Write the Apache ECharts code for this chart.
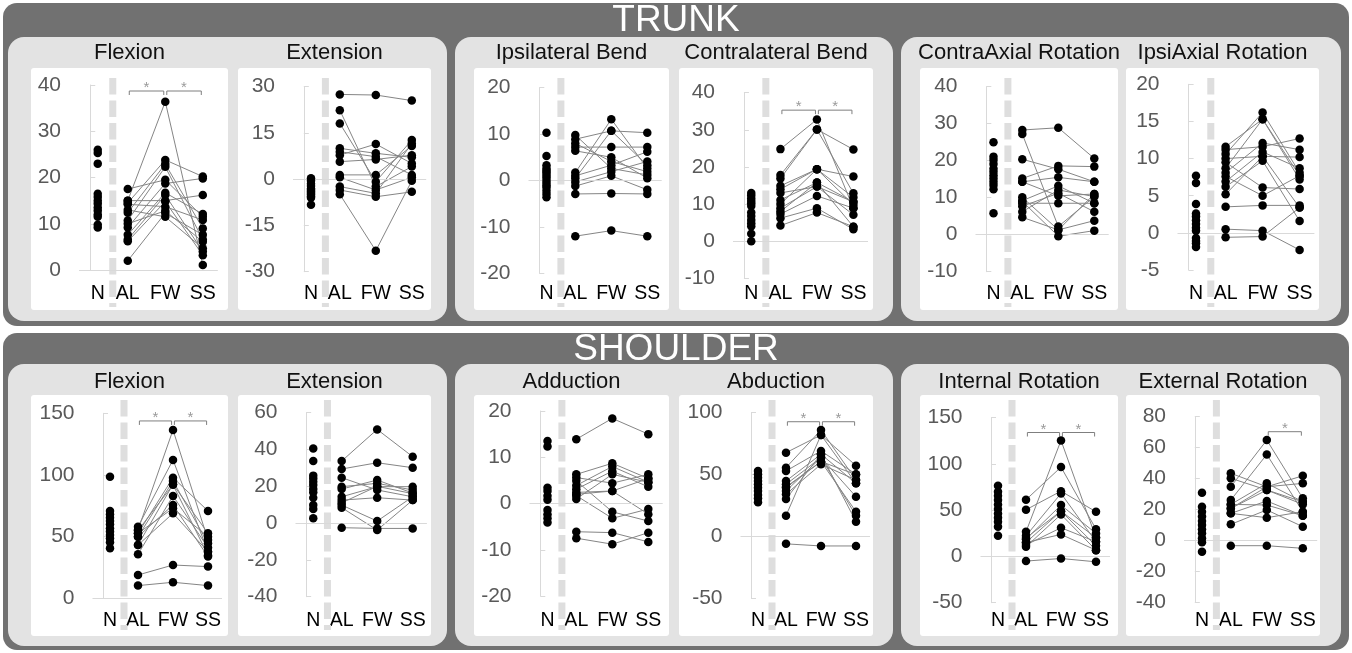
<!DOCTYPE html>
<html><head><meta charset="utf-8">
<script src="https://cdn.jsdelivr.net/npm/echarts@6/dist/echarts.min.js"></script>
<style>html,body{margin:0;padding:0;background:#fff}#c{width:1352px;height:653px}</style>
</head><body><div id="c"></div>
<script>
// ---------- categories / titles / tick ranges ----------
const categories = ['N', 'AL', 'FW', 'SS'];
const sectionTitles = ['TRUNK', 'SHOULDER'];
const panelTitles = ['Flexion', 'Extension', 'Ipsilateral Bend', 'Contralateral Bend', 'ContraAxial Rotation', 'IpsiAxial Rotation',
  'Flexion', 'Extension', 'Adduction', 'Abduction', 'Internal Rotation', 'External Rotation'];
// [min, max, interval]
const yTicks = [[0, 40, 10], [-30, 30, 15], [-20, 20, 10], [-10, 40, 10], [-10, 40, 10], [-5, 20, 5],
  [0, 150, 50], [-40, 60, 20], [-20, 20, 10], [-50, 100, 50], [-50, 150, 50], [-40, 80, 20]];

// ---------- TRUNK data ----------
const trFlexN = [26, 25.3, 23, 16.5, 15.8, 15, 14.3, 13.5, 12.8, 12, 11.5, 9.8, 9.2];
const trFlexAL = [15, 17.5, 14.5, 12.4, 10.7, 9.2, 7.6, 6.6, 6.2, 2.0, 14.2, 15, 13.0, 10];
const trFlexFW = [36.4, 19.5, 23.8, 22.9, 22.3, 18.7, 16.7, 16.2, 14.8, 12.3, 13.7, 15, 11.5, 12.8];
const trFlexSS = [1.1, 11.5, 20.2, 9.0, 6.6, 19.8, 12.1, 4.0, 3.2, 7.6, 10.8, 16.2, 4.7, 6.1];
const trFlexSig = [[1, 2, 38.7], [2, 3, 38.7]];

const trExtN = [0.3, -0.5, -1.5, -2.2, -3, -3.5, -4, -4.5, -5, -5.5, -6, -8.3];
const trExtAL = [27.5, 22.4, 18.1, 10, 8.9, 7.8, 5.7, 1.4, 0.6, -2.4, -3.5, -4.9];
const trExtFW = [27.3, -2.4, -0.8, 8.4, 7.3, 11.4, 6.4, 1.4, -3.5, -4.6, -5.7, -23.2];
const trExtSS = [25.5, 4.1, 12.7, 7.1, 1.4, 5.1, 7.8, 10.8, 0.6, 11.6, -4.1, -0.5];
const trExtSig = [];

const ipsiBendN = [10.3, 5.3, 3.3, 2.6, 2.1, 1.7, 1.2, 0.7, 0.1, -0.5, -1, -1.5, -2.2, -2.9, -3.6];
const ipsiBendAL = [9.8, 8.9, 8.0, 7.2, 6.4, 1.7, 1.0, -0.3, -1.2, -2.9, -12, 0.5];
const ipsiBendFW = [2.6, 10.7, 4.1, 7.2, 5.0, 13.2, 3.3, 1.9, 1.0, -2.8, -10.8, 10.7];
const ipsiBendSS = [1.2, 10.3, 1.9, 7.2, 0.5, 2.6, 6.2, 4.1, -2.0, -2.9, -12, 3.3];
const ipsiBendSig = [];

const contraBendN = [13, 12.3, 11.5, 10.8, 10.2, 9.5, 7.7, 6.8, 5.7, 4.8, 4, 2, 0];
const contraBendAL = [24.8, 17.8, 16.9, 14.9, 14.0, 11.1, 10.0, 8.9, 8.0, 7.3, 6.2, 4.2, 13];
const contraBendFW = [32.8, 30.1, 30.1, 19.4, 19.4, 15.8, 19.4, 14.7, 15.8, 12.2, 8.9, 7.7, 14.7];
const contraBendSS = [8.9, 24.7, 12.9, 17.4, 11.8, 10.6, 9.8, 7.1, 3.9, 8.9, 3.2, 3.9, 10.6];
const contraBendSig = [[1, 2, 35.3], [2, 3, 35.3]];

const contraAxN = [25, 21.1, 20.2, 19.1, 17.9, 17.0, 16.1, 15.2, 14.3, 13.4, 12.3, 5.8];
const contraAxAL = [28.3, 27.2, 20.4, 15.2, 14.3, 10.1, 9.2, 8.5, 7.7, 6.2, 4.7, 9.0, 14.3];
const contraAxFW = [28.9, 2.2, 17.7, 18.6, 15.5, 1.3, 13.2, 8.5, 11.2, 12.1, 1.3, -0.4, 10.5];
const contraAxSS = [20.6, 10.3, 14.3, 18.4, 14.3, 11.0, 8.5, 8.5, 6.2, 10.3, 3.8, 1.1, 11.0];
const contraAxSig = [];

const ipsiAxN = [7.7, 6.7, 3.9, 2.6, 2.2, 1.7, 1.2, 0.7, 0.3, -0.7, -1.1, -1.4, -1.9];
const ipsiAxAL = [11.6, 11.2, 10.6, 10.0, 9.5, 8.7, 8.1, 6.9, 6.2, 5.2, 7.6, 3.5, 0.5, -0.6];
const ipsiAxFW = [15.3, 11.6, 16.2, 10.3, 6.1, 15.3, 12.1, 10.9, 9.7, 10.3, 5.0, 3.7, 0.3, -0.5];
const ipsiAxSS = [7.7, 12.7, 8.1, 10.2, 5.9, 7.2, 11.2, 8.7, 1.6, 3.4, 7.7, 3.7, -2.3, 3.4];
const ipsiAxSig = [];

// ---------- SHOULDER data ----------
const shFlexN = [98.6, 70.8, 68.1, 65.4, 62.7, 60, 56.8, 54.1, 51.4, 48.6, 45.4, 40.5];
const shFlexAL = [55.4, 58.1, 52.7, 50, 43.2, 35.7, 50, 52.7, 43.2, 18.9, 10.3, 55];
const shFlexFW = [136.5, 112.2, 97.8, 95.1, 92.4, 83, 75.7, 73, 68.9, 27, 13, 92];
const shFlexSS = [47.3, 37.8, 70.8, 44.6, 52.7, 41.1, 33.8, 50, 37.8, 25.7, 10.3, 35];
const shFlexSig = [[1, 2, 143.8], [2, 3, 143.8]];

const shExtN = [40.6, 33.7, 25.8, 24.3, 22.5, 20.7, 18.5, 16.7, 13.8, 9.8, 7.7, 2.6];
const shExtAL = [33.7, 29.4, 24.7, 19.8, 18.5, 14.3, 12.5, 9.8, 8.4, -2.5, 11];
const shExtFW = [50.9, 32.8, 18.0, 21.6, 23.4, 19.8, 13.8, 1.1, -3.8, -2.9, 20];
const shExtSS = [36.1, 30.1, 14.3, 18.0, 16.3, 19.8, 12.5, 14.3, 12.5, -2.9, 16];
const shExtSig = [];

const adducN = [13.5, 12.3, 3.4, 2.7, 1.7, 0.8, -1.4, -2.3, -3.2, -4.1];
const adducAL = [13.9, 6.3, 5.6, 4.9, 3.9, 3.1, 2.4, 1.7, 1.0, -6.1, -7.5, 2.0];
const adducFW = [18.4, 8.7, 4.4, -1.8, 8.0, 7.0, 2.7, -3.2, 6.3, -6.3, -8.8, 2.7];
const adducSS = [15.0, 5.4, 6.3, -3.8, 4.6, 3.6, 5.4, -1.2, 4.6, -8.3, -6.3, -2.3];
const adducSig = [];

const abducN = [52.9, 50.2, 47.5, 44.8, 42.1, 39.4, 36.7, 33.5, 30.8, 27.6];
const abducAL = [67.7, 55.6, 52.9, 44.8, 42.1, 39.4, 36.7, 34.1, 30.3, 16.8, -6.0, 40];
const abducFW = [82, 86.0, 69.1, 66.4, 63.7, 60.5, 63.7, 58.3, 66.4, 82, -7.7, 60.5];
const abducSS = [57.2, 45.6, 50.2, 42.9, 32.1, 20, 16.8, 45.6, 11.9, 42.9, -7.7, 50];
const abducSig = [[1, 2, 92.7], [2, 3, 92.7]];

const intRotN = [76.4, 69.9, 65.6, 60.9, 56.2, 51.2, 46.5, 41.8, 37.5, 32.1, 22.3];
const intRotAL = [61.3, 50.5, 26.7, 22.3, 18.7, 15.1, 10.5, 12.5, 15.1, -5, 20];
const intRotFW = [96.6, 70.6, 125.4, 68.1, 55.5, 49, 45.4, 31, 23.8, -2.2, 49];
const intRotSS = [29.5, 48.3, 20.2, 15.9, 24.9, 11.5, 6.8, 15.9, 6.8, -5.8, 20.2];
const intRotSig = [[1, 2, 134], [2, 3, 134]];

const extRotN = [30.9, 21.8, 18.6, 15.4, 12.6, 10, 7.2, 4.6, 1.4, -1.2, -7.3];
const extRotAL = [43.4, 40.2, 34.7, 26.1, 23.3, 20.7, 17.5, 10.4, 23.3, 17.5, -3.4, 20.7];
const extRotFW = [34.7, 32.6, 64.9, 55.6, 36.9, 34.7, 25.5, 19.7, 22.9, 14.7, -3.4, 32.6];
const extRotSS = [41.8, 23.3, 27.2, 18.6, 25, 36.9, 16, 8.9, 16, 18.6, -5.1, 25];
const extRotSig = [[2, 3, 70.3]];

const panelData = [
  [trFlexN, trFlexAL, trFlexFW, trFlexSS, trFlexSig],
  [trExtN, trExtAL, trExtFW, trExtSS, trExtSig],
  [ipsiBendN, ipsiBendAL, ipsiBendFW, ipsiBendSS, ipsiBendSig],
  [contraBendN, contraBendAL, contraBendFW, contraBendSS, contraBendSig],
  [contraAxN, contraAxAL, contraAxFW, contraAxSS, contraAxSig],
  [ipsiAxN, ipsiAxAL, ipsiAxFW, ipsiAxSS, ipsiAxSig],
  [shFlexN, shFlexAL, shFlexFW, shFlexSS, shFlexSig],
  [shExtN, shExtAL, shExtFW, shExtSS, shExtSig],
  [adducN, adducAL, adducFW, adducSS, adducSig],
  [abducN, abducAL, abducFW, abducSS, abducSig],
  [intRotN, intRotAL, intRotFW, intRotSS, intRotSig],
  [extRotN, extRotAL, extRotFW, extRotSS, extRotSig]
];

// ---------- layout (pixels) ----------
const FONT = '"Liberation Sans", Arial, sans-serif';
const catX = [0.2, 1, 2, 3];   // axis positions of N, AL, FW, SS
const dashX = 0.6;
const X_MIN = -0.3, X_MAX = 3.4;
const layout = [
  { px: 31, pw: 197, gl: 79, gw: 138.8, gt: 85, gh: 185 },
  { px: 238, pw: 193, gl: 293, gw: 133.2, gt: 86.7, gh: 185 },
  { px: 474, pw: 195, gl: 528.5, gw: 133.2, gt: 87.7, gh: 185.6 },
  { px: 679, pw: 194, gl: 733, gw: 135, gt: 92.7, gh: 185.6 },
  { px: 920, pw: 198, gl: 975.5, gw: 133.2, gt: 86.7, gh: 185 },
  { px: 1126, pw: 193, gl: 1177.5, gw: 136.9, gt: 84.3, gh: 185.7 },
  { px: 31, pw: 197, gl: 92.5, gw: 129.5, gt: 413.3, gh: 185 },
  { px: 238, pw: 193, gl: 295.5, gw: 131.4, gt: 412.7, gh: 184 },
  { px: 474, pw: 195, gl: 529.5, gw: 133.2, gt: 411, gh: 185 },
  { px: 679, pw: 194, gl: 740.5, gw: 129.5, gt: 412.7, gh: 185.6 },
  { px: 920, pw: 198, gl: 980.5, gw: 129.5, gt: 417.7, gh: 185 },
  { px: 1126, pw: 194, gl: 1184, gw: 133.2, gt: 416.7, gh: 185.6 }
];
const rows = [
  { bgY: 3, bgH: 323, secY: 21, grpY: 37, grpH: 284, pY: 68, pH: 242, titleY: 53, catY: 294, dashTop: 78, dashBot: 307 },
  { bgY: 333, bgH: 317, secY: 350, grpY: 364, grpH: 282, pY: 395, pH: 241, titleY: 382, catY: 621, dashTop: 400, dashBot: 630 }
];
const groupsX = [[8, 439], [455, 438], [901, 440]];

const chart = echarts.init(document.getElementById('c'), null, { renderer: 'canvas' });

const grids = [], xAxes = [], yAxes = [], series = [];
panelData.forEach((pd, i) => {
  const L = layout[i];
  const row = rows[i < 6 ? 0 : 1];
  const [N, AL, FW, SS, SIG] = pd;
  const [ymin, ymax, yint] = yTicks[i];
  grids.push({ left: L.gl, width: L.gw, top: L.gt, height: L.gh, containLabel: false });
  const gBottom = L.gt + L.gh;
  xAxes.push({
    gridIndex: i, type: 'value', min: X_MIN, max: X_MAX,
    axisLine: { show: false }, axisTick: { show: false }, splitLine: { show: false },
    axisLabel: {
      customValues: catX, margin: row.catY - 10 - gBottom,
      color: '#000', fontSize: 19.5, fontFamily: FONT,
      formatter: v => { const k = catX.findIndex(c => Math.abs(c - v) < 1e-6); return k >= 0 ? categories[k] : ''; }
    }
  });
  yAxes.push({
    gridIndex: i, type: 'value', min: ymin, max: ymax, interval: yint,
    axisLine: { show: true, lineStyle: { color: '#d9d9d9', width: 1 } },
    axisTick: { show: true, inside: true, length: 5, lineStyle: { color: '#d9d9d9' } },
    splitLine: { show: false },
    axisLabel: { color: '#595959', fontSize: 21, fontFamily: FONT, margin: 18 }
  });
  series.push({
    type: 'lines', coordinateSystem: 'cartesian2d', xAxisIndex: i, yAxisIndex: i,
    polyline: true, silent: true, z: 3,
    lineStyle: { color: '#858585', width: 1, opacity: 1 },
    data: AL.map((a, k) => ({ coords: [[catX[1], a], [catX[2], FW[k]], [catX[3], SS[k]]] }))
  });
  series.push({
    type: 'scatter', xAxisIndex: i, yAxisIndex: i, symbolSize: 8.5, z: 5, silent: true,
    itemStyle: { color: '#000', opacity: 1 },
    data: N.map(v => [catX[0], v]),
    markLine: {
      silent: true, symbol: 'none', label: { show: false }, animation: false,
      lineStyle: { color: '#d9d9d9', type: 'solid', width: 1 },
      data: [{ yAxis: 0 }]
    }
  });
  series.push({
    type: 'scatter', xAxisIndex: i, yAxisIndex: i, symbolSize: 8.5, z: 5, silent: true,
    itemStyle: { color: '#000', opacity: 1 },
    data: [].concat(AL.map(v => [catX[1], v]), FW.map(v => [catX[2], v]), SS.map(v => [catX[3], v]))
  });
  const drop = (ymax - ymin) * 4 / L.gh;
  SIG.forEach(s => {
    const x1 = s[0] + 0.04, x2 = s[1] - 0.04, lv = s[2];
    series.push({
      type: 'line', xAxisIndex: i, yAxisIndex: i, showSymbol: false, silent: true, z: 4,
      lineStyle: { color: '#7f7f7f', width: 1 }, animation: false,
      data: [[x1, lv - drop], [x1, lv], [x2, lv], [x2, lv - drop]]
    });
    series.push({
      type: 'scatter', xAxisIndex: i, yAxisIndex: i, symbolSize: 1, silent: true, z: 4,
      itemStyle: { color: 'rgba(0,0,0,0)' },
      label: { show: true, formatter: '*', position: 'inside', offset: [0, -3], color: '#7f7f7f', fontSize: 15, fontFamily: FONT },
      data: [[(s[0] + s[1]) / 2, lv]]
    });
  });
});

function baseGraphics() {
  const g = [];
  rows.forEach((r, ri) => {
    g.push({ type: 'rect', z: -30, shape: { x: 3, y: r.bgY, width: 1346, height: r.bgH, r: 14 }, style: { fill: '#717171' } });
    g.push({ type: 'text', z: 10, x: 676, y: r.secY, style: { text: sectionTitles[ri], fill: '#fff', font: '37px ' + FONT, textAlign: 'center', textVerticalAlign: 'middle', align: 'center', verticalAlign: 'middle' } });
    groupsX.forEach(gx => {
      g.push({ type: 'rect', z: -25, shape: { x: gx[0], y: r.grpY, width: gx[1], height: r.grpH, r: 16 }, style: { fill: '#e3e3e3' } });
    });
  });
  layout.forEach((L, i) => {
    const r = rows[i < 6 ? 0 : 1];
    g.push({ type: 'rect', z: -20, shape: { x: L.px, y: r.pY, width: L.pw, height: r.pH, r: 3 }, style: { fill: '#ffffff' } });
    g.push({ type: 'text', z: 10, x: L.px + L.pw / 2, y: r.titleY, style: { text: panelTitles[i], fill: '#111', font: '22px ' + FONT, textAlign: 'center', textVerticalAlign: 'middle', align: 'center', verticalAlign: 'middle' } });
  });
  return g;
}

chart.setOption({
  animation: false,
  backgroundColor: '#ffffff',
  grid: grids, xAxis: xAxes, yAxis: yAxes, series: series,
  graphic: { elements: baseGraphics() }
});

const g2 = baseGraphics();
layout.forEach((L, i) => {
  const r = rows[i < 6 ? 0 : 1];
  const px = chart.convertToPixel({ gridIndex: i }, [dashX, 0])[0];
  g2.push({ type: 'line', z: 1, shape: { x1: px, y1: r.dashTop, x2: px, y2: r.dashBot }, style: { stroke: '#dedede', lineWidth: 7, lineDash: [16.5, 6] } });
});
chart.setOption({ graphic: { elements: g2 } }, { replaceMerge: ['graphic'] });
</script>
</body></html>
